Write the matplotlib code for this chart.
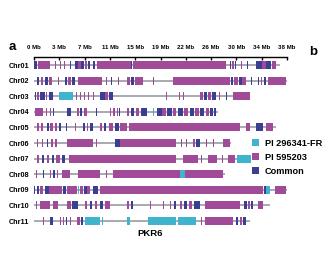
import matplotlib
matplotlib.use("Agg")
import matplotlib.pyplot as plt
from matplotlib.patches import Patch
import numpy as np

plt.rcParams['font.family'] = ['Liberation Sans', 'DejaVu Sans']
plt.rcParams['font.weight'] = 'bold'

# chromosome names and lengths (Mb)
chr_names = ["Chr01", "Chr02", "Chr03", "Chr04", "Chr05", "Chr06",
             "Chr07", "Chr08", "Chr09", "Chr10", "Chr11"]
chr_lengths = [36.9, 38.0, 32.4, 27.7, 36.4, 29.6, 32.6, 28.7, 38.0, 35.4, 32.4]

tick_labels = ["0 Mb", "3 Mb", "7 Mb", "11 Mb", "15 Mb", "19 Mb",
               "22 Mb", "26 Mb", "30 Mb", "34 Mb", "38 Mb"]

# blocks: (start Mb, end Mb, source) F = PI 296341-FR, P = PI 595203, C = common
chr01 = [(0.0, 0.5, 'C'), (0.6, 2.4, 'P'), (3.15, 3.3, 'P'), (3.85, 4.0, 'P'),
         (4.55, 4.7, 'P'), (5.35, 5.5, 'C'), (6.2, 6.6, 'C'), (6.6, 7.0, 'P'),
         (7.1, 7.5, 'C'), (7.6, 8.0, 'P'), (8.1, 8.4, 'C'), (8.9, 9.1, 'C'),
         (9.4, 14.5, 'P'), (14.6, 14.75, 'C'), (14.8, 22.5, 'P'), (22.6, 28.9, 'P'),
         (29.4, 29.6, 'C'), (29.8, 30.0, 'P'), (30.2, 30.4, 'C'), (31.15, 31.3, 'P'),
         (31.95, 32.1, 'C'), (33.4, 34.2, 'C'), (34.3, 34.8, 'P'), (34.9, 35.6, 'C'),
         (35.8, 36.4, 'P')]
chr02 = [(0.4, 0.7, 'C'), (1.0, 1.3, 'P'), (1.6, 2.1, 'C'), (2.3, 2.7, 'P'),
         (3.6, 3.75, 'P'), (4.6, 4.9, 'C'), (5.1, 5.5, 'P'), (5.7, 6.1, 'C'),
         (6.65, 10.15, 'P'), (10.85, 11.0, 'P'), (11.6, 11.75, 'C'), (12.55, 12.7, 'P'),
         (13.9, 14.4, 'P'), (14.6, 15.0, 'C'), (15.2, 16.4, 'P'), (17.85, 18.0, 'P'),
         (20.85, 21.0, 'P'), (21.0, 29.5, 'P'), (29.6, 29.9, 'C'), (30.0, 30.7, 'P'),
         (30.8, 31.2, 'C'), (31.3, 31.9, 'P'), (32.65, 32.8, 'C'), (33.6, 33.8, 'C'),
         (34.1, 34.3, 'P'), (34.6, 34.9, 'C'), (35.2, 37.9, 'P')]
chr03 = [(0.1, 0.3, 'C'), (0.5, 0.7, 'P'), (0.9, 1.6, 'C'), (1.8, 2.0, 'P'),
         (2.2, 2.9, 'C'), (3.8, 5.9, 'F'), (6.35, 6.5, 'P'), (6.95, 7.1, 'P'),
         (7.55, 7.7, 'P'), (8.15, 8.3, 'P'), (8.85, 9.0, 'P'), (9.9, 10.6, 'C'),
         (10.7, 11.1, 'P'), (11.3, 11.9, 'C'), (19.85, 20.0, 'P'), (21.85, 22.0, 'P'),
         (22.35, 22.5, 'P'), (24.9, 25.4, 'P'), (25.6, 26.0, 'C'), (26.2, 26.6, 'P'),
         (26.8, 27.4, 'C'), (27.85, 28.0, 'P'), (28.85, 29.0, 'C'), (29.9, 32.4, 'P')]
chr04 = [(0.1, 1.4, 'P'), (1.85, 2.0, 'P'), (2.35, 2.5, 'P'), (2.85, 3.0, 'C'),
         (4.9, 5.6, 'C'), (6.4, 6.7, 'P'), (6.9, 7.2, 'C'), (7.5, 7.9, 'P'),
         (9.35, 9.5, 'C'), (11.35, 11.5, 'P'), (11.9, 12.1, 'P'), (12.4, 12.6, 'P'),
         (12.8, 12.95, 'C'), (13.9, 14.3, 'P'), (14.6, 15.0, 'C'), (15.3, 15.7, 'P'),
         (16.0, 16.9, 'C'), (17.85, 18.0, 'F'), (18.4, 19.2, 'C'), (19.3, 19.8, 'P'),
         (20.0, 20.8, 'C'), (20.9, 21.4, 'P'), (21.6, 22.4, 'C'), (22.5, 23.2, 'P'),
         (23.4, 24.0, 'C'), (24.2, 24.8, 'P'), (25.0, 25.6, 'C'), (25.8, 26.3, 'P'),
         (26.5, 26.9, 'C'), (27.1, 27.4, 'C')]
chr05 = [(0.4, 0.7, 'P'), (1.1, 1.4, 'P'), (1.9, 2.2, 'C'), (2.4, 2.9, 'P'),
         (3.2, 3.5, 'P'), (3.7, 4.1, 'C'), (4.85, 5.0, 'C'), (6.15, 6.3, 'P'),
         (7.4, 7.6, 'C'), (7.9, 8.1, 'P'), (8.4, 8.9, 'C'), (9.9, 10.2, 'P'),
         (10.5, 10.8, 'C'), (11.2, 11.9, 'P'), (12.15, 12.8, 'C'), (12.9, 13.9, 'P'),
         (14.2, 30.9, 'P'), (31.9, 32.4, 'P'), (33.4, 34.4, 'C'), (34.9, 35.9, 'P')]
chr06 = [(0.4, 0.6, 'P'), (1.2, 1.4, 'P'), (1.9, 2.1, 'C'), (2.6, 2.8, 'P'),
         (3.2, 3.4, 'P'), (4.9, 8.9, 'P'), (9.35, 9.5, 'P'), (12.2, 12.9, 'C'),
         (12.9, 21.4, 'P'), (22.1, 22.25, 'P'), (22.85, 23.0, 'P'), (23.9, 24.2, 'P'),
         (24.4, 24.9, 'C'), (25.85, 26.0, 'P'), (26.85, 27.0, 'P'), (28.4, 29.4, 'P')]
chr07 = [(0.4, 0.7, 'P'), (1.2, 1.5, 'C'), (1.9, 2.3, 'P'), (2.7, 3.0, 'C'),
         (3.3, 3.9, 'P'), (4.2, 4.7, 'C'), (5.2, 21.4, 'P'), (22.4, 24.6, 'P'),
         (25.15, 25.3, 'P'), (26.1, 27.5, 'P'), (28.25, 28.4, 'P'), (29.1, 30.2, 'P'),
         (30.5, 32.6, 'F')]
chr08 = [(0.35, 0.5, 'P'), (1.35, 1.5, 'C'), (2.4, 2.6, 'P'), (2.9, 3.2, 'C'),
         (3.4, 3.65, 'P'), (4.15, 5.4, 'P'), (6.65, 9.9, 'P'), (10.85, 11.0, 'P'),
         (11.9, 21.9, 'P'), (21.9, 22.65, 'F'), (22.65, 28.4, 'P')]
chr09 = [(0.0, 0.2, 'C'), (0.5, 0.7, 'C'), (0.9, 1.4, 'P'), (1.65, 2.2, 'C'),
         (2.3, 4.2, 'P'), (4.3, 4.8, 'C'), (4.9, 6.4, 'P'), (6.65, 6.8, 'F'),
         (6.9, 7.3, 'P'), (7.5, 7.9, 'C'), (8.0, 8.4, 'P'), (8.9, 9.65, 'C'),
         (9.9, 34.4, 'P'), (34.5, 34.8, 'C'), (34.9, 35.4, 'F'), (36.15, 37.9, 'P')]
chr10 = [(0.35, 0.5, 'P'), (0.9, 2.4, 'P'), (2.9, 3.6, 'P'), (4.9, 5.6, 'P'),
         (5.7, 6.65, 'C'), (7.65, 8.0, 'P'), (8.4, 8.7, 'C'), (9.1, 9.5, 'P'),
         (9.9, 10.3, 'C'), (10.6, 11.4, 'P'), (13.9, 14.2, 'P'), (14.5, 14.9, 'C'),
         (17.35, 17.5, 'P'), (19.35, 19.5, 'P'), (20.4, 20.6, 'P'), (21.1, 21.4, 'C'),
         (21.9, 22.3, 'P'), (22.6, 23.0, 'C'), (23.3, 23.7, 'P'), (24.0, 24.9, 'C'),
         (25.7, 30.9, 'P'), (31.6, 32.0, 'C'), (32.2, 32.5, 'P'), (32.6, 32.9, 'C'),
         (33.6, 34.4, 'P')]
chr11 = [(1.35, 1.5, 'P'), (2.4, 2.9, 'C'), (3.85, 4.0, 'P'), (4.35, 4.5, 'P'),
         (4.85, 5.0, 'C'), (5.35, 5.5, 'P'), (6.4, 6.9, 'P'), (7.0, 7.4, 'C'),
         (7.65, 9.9, 'F'), (10.15, 10.3, 'F'), (13.9, 14.4, 'F'), (17.15, 21.4, 'F'),
         (21.65, 24.4, 'F'), (25.15, 25.3, 'P'), (25.65, 29.9, 'P'), (30.4, 30.7, 'C'),
         (30.9, 31.2, 'P'), (31.4, 31.9, 'C')]
blocks = [chr01, chr02, chr03, chr04, chr05, chr06, chr07, chr08, chr09, chr10, chr11]

colors = {'F': '#3fb4cc', 'P': '#a04a98', 'C': '#3a3f92'}
legend_labels = {'F': 'PI 296341-FR', 'P': 'PI 595203', 'C': 'Common'}

fig = plt.figure(figsize=(3.28, 2.74), dpi=100)
ax = fig.add_axes([32 / 328, 0, 268 / 328, 1])
px_per_mb = 253 / 38
ax.set_xlim(-2 / px_per_mb, 266 / px_per_mb)
ax.set_ylim((274 - 65) / 15.6, -65 / 15.6)

bar_h = 0.52
for i, segs in enumerate(blocks):
    ax.plot([0, chr_lengths[i]], [i, i], color='#a3a3ad', lw=1.3, solid_capstyle='butt', zorder=1)
    for kind in ['P', 'C', 'F']:
        rng = [(s, e - s) for s, e, k in segs if k == kind]
        if rng:
            ax.broken_barh(rng, (i - bar_h / 2, bar_h), facecolors=colors[kind],
                           linewidth=0, zorder=2)

# ruler on top
for side in ['left', 'right', 'bottom']:
    ax.spines[side].set_visible(False)
ax.spines['top'].set_position(('data', -8 / 15.6))
ax.spines['top'].set_bounds(0, 38)
ax.spines['top'].set_linewidth(1.0)
ax.xaxis.tick_top()
ax.set_xticks(np.arange(len(tick_labels)) * 3.8, tick_labels)
ax.tick_params(axis='x', direction='in', length=2.5, width=1.0, pad=5, labelsize=4.4)
ax.set_yticks(range(len(chr_names)), chr_names)
ax.tick_params(axis='y', length=0, pad=2, labelsize=5.2)
ax.patch.set_visible(False)

ax.text(17.4, 10.83, "PKR6", ha='center', va='center', fontsize=6.8, fontweight='bold')

handles = [Patch(facecolor=colors[k], label=legend_labels[k]) for k in ['F', 'P', 'C']]
fig.legend(handles=handles, loc='upper left', bbox_to_anchor=(252 / 328, 1 - 139 / 274),
           frameon=False, prop={'size': 6.6, 'weight': 'bold'}, handlelength=0.8,
           handleheight=0.8, handletextpad=0.6, labelspacing=0.55, borderpad=0,
           borderaxespad=0)

fig.text(12 / 328, 1 - 47 / 274, "a", fontsize=9.5, fontweight='bold', ha='center', va='center')
fig.text(313 / 328, 1 - 52 / 274, "b", fontsize=9.5, fontweight='bold', ha='center', va='center')

fig.savefig("out.png", dpi=100)
